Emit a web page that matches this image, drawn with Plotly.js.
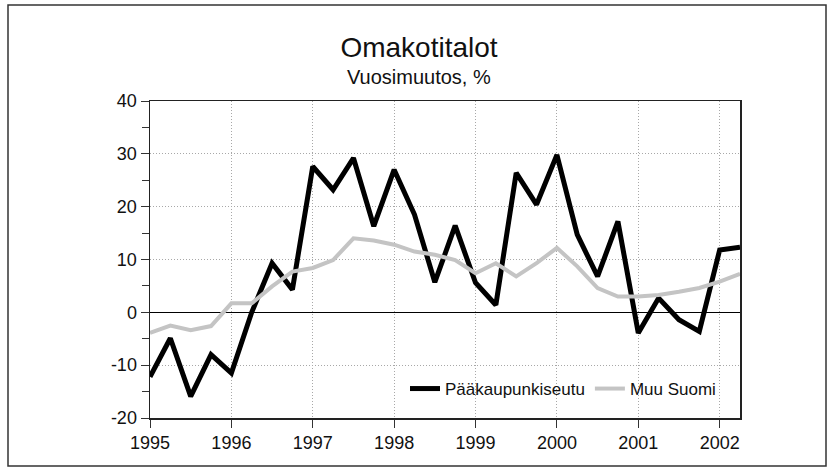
<!DOCTYPE html>
<html>
<head>
<meta charset="utf-8">
<script src="https://cdn.plot.ly/plotly-3.0.1.min.js"></script>
<style>html,body{margin:0;padding:0;background:#fff;}#chart{width:832px;height:471px;}</style>
</head>
<body>
<div id="chart"></div>
<script>
const quarters = [
  1995.0,1995.25,1995.5,1995.75,
  1996.0,1996.25,1996.5,1996.75,
  1997.0,1997.25,1997.5,1997.75,
  1998.0,1998.25,1998.5,1998.75,
  1999.0,1999.25,1999.5,1999.75,
  2000.0,2000.25,2000.5,2000.75,
  2001.0,2001.25,2001.5,2001.75,
  2002.0,2002.25
];
const paakaupunkiseutu = [
  -12.2,-4.9,-15.9,-8.0,
  -11.5,0.0,9.3,4.3,
  27.6,23.2,29.2,16.3,
  27.0,18.5,5.7,16.4,
  5.6,1.4,26.4,20.4,
  29.8,14.7,6.8,17.2,
  -3.9,2.7,-1.4,-3.6,
  11.8,12.3
];
const muuSuomi = [
  -3.9,-2.5,-3.4,-2.6,
  1.7,1.7,4.9,7.7,
  8.4,9.9,14.0,13.6,
  12.8,11.5,10.9,9.9,
  7.4,9.3,6.8,9.3,
  12.2,8.7,4.6,3.0,
  3.0,3.3,3.9,4.6,
  5.8,7.3
];
const seriesNames = ["Pääkaupunkiseutu","Muu Suomi"];
const yearTicks = [1995,1996,1997,1998,1999,2000,2001,2002];
const yearLabels = ["1995","1996","1997","1998","1999","2000","2001","2002"];
const valueTicks = [-20,-10,0,10,20,30,40];
const valueLabels = ["-20","-10","0","10","20","30","40"];
const titleText = "Omakotitalot";
const subtitleText = "Vuosimuutos, %";

const FONT = "'Liberation Sans Narrow', 'Liberation Sans', Arial, sans-serif";

const traces = [
  {x: quarters, y: paakaupunkiseutu, name: seriesNames[0], type: "scatter", mode: "lines",
   line: {color: "#000000", width: 5, shape: "linear"}},
  {x: quarters, y: muuSuomi, name: seriesNames[1], type: "scatter", mode: "lines",
   line: {color: "#c4c4c4", width: 4, shape: "linear"}}
];

const L = 150, R = 740, T = 101, B = 418;
const pw = R - L, ph = B - T;
const layout = {
  width: 832, height: 471,
  margin: {l: L, r: 832 - R, t: T, b: 471 - B, pad: 0},
  paper_bgcolor: "#ffffff", plot_bgcolor: "#ffffff",
  font: {family: FONT, color: "#111111", size: 18},
  title: {text: titleText, font: {family: FONT, size: 28, color: "#111"},
          x: 419/832, xanchor: "center", y: 1 - 47/471, yanchor: "middle"},
  annotations: [{text: subtitleText, xref: "paper", yref: "paper",
                 x: (419 - L)/pw, y: (B - 77)/ph, xanchor: "center", yanchor: "middle",
                 showarrow: false, font: {family: FONT, size: 20, color: "#111"}}],
  showlegend: true,
  legend: {orientation: "h", x: (405 - L)/pw, xanchor: "left", y: (B - 389)/ph, yanchor: "middle",
           bgcolor: "rgba(0,0,0,0)", font: {family: FONT, size: 17, color: "#111"},
           itemwidth: 30, tracegroupgap: 0},
  xaxis: {range: [1995, 2002.25], tickmode: "array", tickvals: yearTicks, ticktext: yearLabels,
          ticks: "outside", ticklen: 8, tickcolor: "#333", tickwidth: 1,
          showline: true, linecolor: "#222", linewidth: 1.5, mirror: true,
          showgrid: true, gridcolor: "#a8a8a8", griddash: "1px,2px", gridwidth: 1,
          zeroline: false, tickfont: {family: FONT, size: 18, color: "#111"}, fixedrange: true},
  yaxis: {range: [-20, 40], tickmode: "array", tickvals: valueTicks, ticktext: valueLabels,
          ticks: "outside", ticklen: 8, tickcolor: "#333", tickwidth: 1,
          minor: {tickmode: "linear", tick0: 5, dtick: 10, ticks: "outside", ticklen: 7, tickcolor: "#333", showgrid: false},
          showline: true, linecolor: "#222", linewidth: 1.5, mirror: true,
          showgrid: true, gridcolor: "#a8a8a8", griddash: "1px,2px", gridwidth: 1,
          zeroline: true, zerolinecolor: "#000", zerolinewidth: 1.5,
          tickfont: {family: FONT, size: 18, color: "#111"}, fixedrange: true},
  shapes: [{type: "rect", xref: "paper", yref: "paper",
            x0: (8 - L)/pw, x1: (826 - L)/pw, y0: (B - 466)/ph, y1: (B - 5)/ph,
            line: {color: "#333", width: 1.5}, fillcolor: "rgba(0,0,0,0)", layer: "below"}]
};

Plotly.newPlot("chart", traces, layout, {displayModeBar: false, staticPlot: true});
</script>
</body>
</html>
